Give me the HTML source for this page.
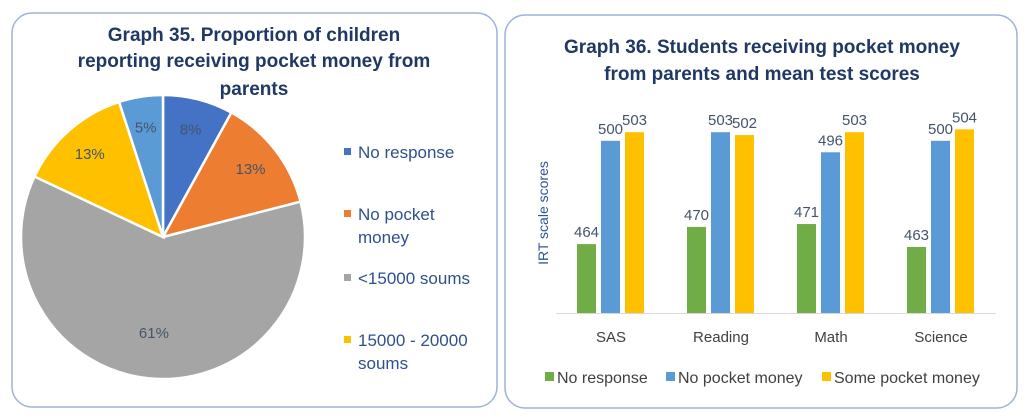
<!DOCTYPE html>
<html><head><meta charset="utf-8"><style>
body{margin:0;background:#fff;width:1024px;height:418px;overflow:hidden;font-family:"Liberation Sans",sans-serif}
svg{display:block}
</style></head><body>
<svg id="root" width="1024" height="418" viewBox="0 0 1024 418" xmlns="http://www.w3.org/2000/svg">
<rect x="12" y="13" width="485" height="394" rx="20" fill="#fff" stroke="#9DB3D9" stroke-width="1.5"/>
<rect x="505" y="15" width="512" height="393" rx="20" fill="#fff" stroke="#9DB3D9" stroke-width="1.5"/>
<g font-weight="bold" font-size="19" fill="#1F3864" text-anchor="middle">
<text x="254" y="41">Graph 35. Proportion of children</text>
<text x="254" y="67">reporting receiving pocket money from</text>
<text x="254" y="95">parents</text>
</g>
<g id="pie"></g>
<g id="pieLegend" font-size="17" fill="#2F4F8F"></g>
<g font-weight="bold" font-size="19" fill="#1F3864" text-anchor="middle">
<text x="762" y="53">Graph 36. Students receiving pocket money</text>
<text x="762" y="80">from parents and mean test scores</text>
</g>
<text transform="translate(548,213) rotate(-90)" text-anchor="middle" font-size="14" fill="#2F5597">IRT scale scores</text>
<line x1="556" y1="313.5" x2="996" y2="313.5" stroke="#D9D9D9" stroke-width="1"/>
<g id="bars"></g>
<g id="barLegend" font-size="16" fill="#404040"></g>
</svg>
<script>
const pieLabels = ["No response","No pocket money","<15000 soums","15000 - 20000 soums","Other"];
const pieValues = [8,13,61,13,5];
const pieColors = ["#4472C4","#ED7D31","#A5A5A5","#FFC000","#5B9BD5"];
const categories = ["SAS","Reading","Math","Science"];
const seriesNames = ["No response","No pocket money","Some pocket money"];
const noResponse = [464,470,471,463];
const noPocket = [500,503,496,500];
const somePocket = [503,502,503,504];
const barColors = ["#70AD47","#5B9BD5","#FFC000"];
const NS="http://www.w3.org/2000/svg";
function mk(tag,attrs,parent){const e=document.createElementNS(NS,tag);for(const k in attrs)e.setAttribute(k,attrs[k]);parent.appendChild(e);return e;}
const pie=document.getElementById('pie');
const cx=163,cy=237,R=142;
const total=pieValues.reduce((a,b)=>a+b,0);
let ang=0;
pieValues.forEach((v,i)=>{
  const a0=ang, a1=ang+v/total*2*Math.PI; ang=a1;
  const x0=cx+R*Math.sin(a0),y0=cy-R*Math.cos(a0),x1=cx+R*Math.sin(a1),y1=cy-R*Math.cos(a1);
  const large=(a1-a0)>Math.PI?1:0;
  const p=mk('path',{d:`M${cx},${cy} L${x0},${y0} A${R},${R} 0 ${large} 1 ${x1},${y1} Z`,fill:pieColors[i],stroke:'#fff','stroke-width':2.5},pie);
  
  
  const m=(a0+a1)/2, lr=v>30?R*0.68:R*0.78;
  const t=mk('text',{x:cx+lr*Math.sin(m),y:cy-lr*Math.cos(m)+5,'text-anchor':'middle','font-size':15,fill:'#44546A'},pie);
  t.textContent=v+'%';
  
  
});
const pl=document.getElementById('pieLegend');
const legRows=[[158,["No response"]],[220,["No pocket","money"]],[284,["<15000 soums"]],[346,["15000 - 20000","soums"]]];
legRows.forEach((r,i)=>{
  const s=mk('rect',{x:344,y:r[0]-10,width:7,height:7,fill:pieColors[i]},pl);
  
  
  r[1].forEach((ln,j)=>{
    const t=mk('text',{x:358,y:r[0]+j*23},pl);t.textContent=ln;
    
    
  });
});
const bars=document.getElementById('bars');
const base=313, yMin=440, pxPer=2.87;
const yOf=v=>base-(v-yMin)*pxPer;
const groupX=i=>611+i*110;
const series=[noResponse,noPocket,somePocket];
categories.forEach((c,ci)=>{
  series.forEach((s,si)=>{
    const x=groupX(ci)-34+si*24, y=yOf(s[ci]);
    const r=mk('rect',{x:x,y:y,width:19,height:base-y,fill:barColors[si]},bars);
    
    
    const t=mk('text',{x:x+9.5,y:y-7,'text-anchor':'middle','font-size':15,fill:'#44546A'},bars);
    t.textContent=s[ci];
    
    
  });
  const t=mk('text',{x:groupX(ci),y:342,'text-anchor':'middle','font-size':15,fill:'#404040'},bars);
  t.textContent=c;
  
  
});
const bl=document.getElementById('barLegend');
const legX=[545,666,822];
seriesNames.forEach((n,i)=>{
  const s=mk('rect',{x:legX[i],y:372,width:9,height:9,fill:barColors[i]},bl);
  
  
  const t=mk('text',{x:legX[i]+12,y:383},bl);t.textContent=n;
  
  
});
</script>
</body></html>
